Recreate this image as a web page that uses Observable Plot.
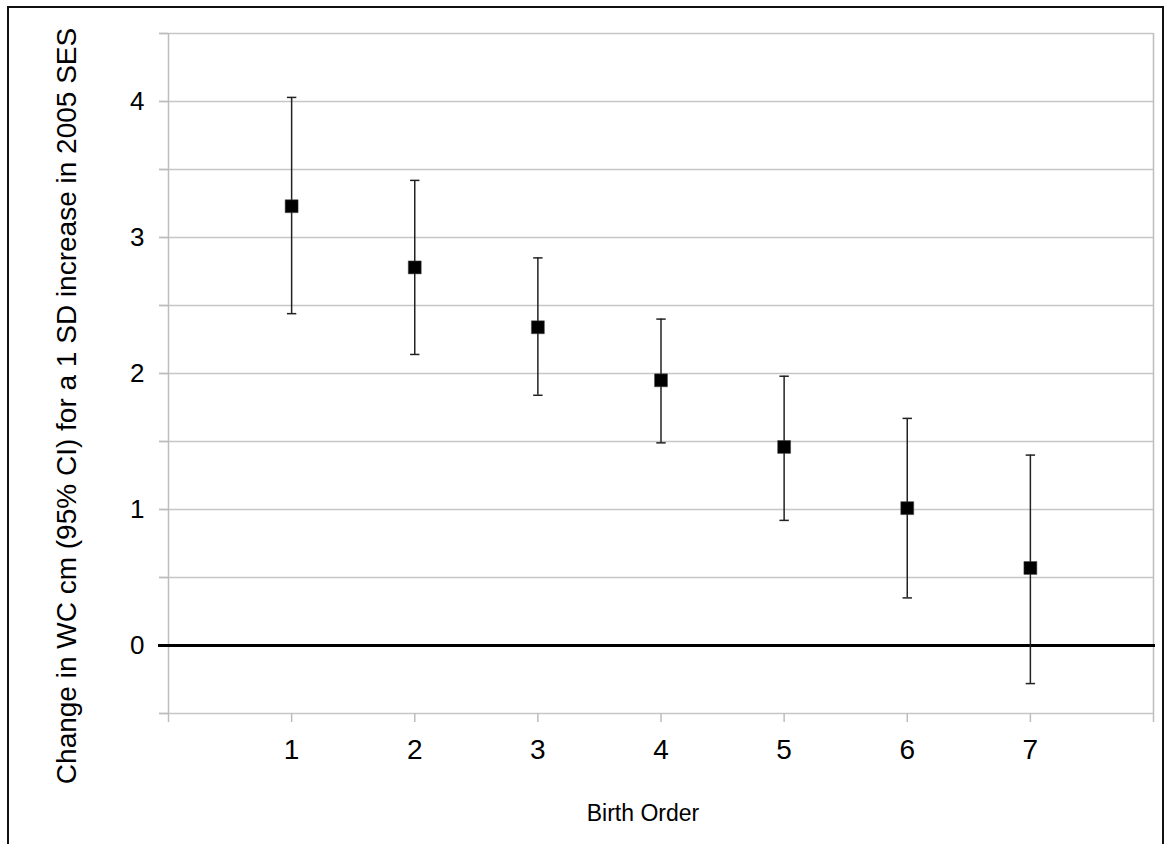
<!DOCTYPE html>
<html><head><meta charset="utf-8">
<script src="https://cdn.jsdelivr.net/npm/d3@7"></script>
<script src="https://cdn.jsdelivr.net/npm/@observablehq/plot@0.6"></script>
<style>
html,body{margin:0;padding:0;background:#fff;overflow:hidden;width:1165px;height:844px;}
#wrap{position:relative;width:1165px;height:844px;font-family:"Liberation Sans",Arial,sans-serif;}
#frame{position:absolute;left:7px;top:6px;width:1157px;height:900px;border:2px solid #111;box-sizing:border-box;pointer-events:none;}
#chart{position:absolute;left:0;top:0;}
#ytitle{position:absolute;left:67px;top:406px;transform:translate(-50%,-50%) rotate(-90deg);white-space:nowrap;font-size:28px;color:#000;}
#xtitle{position:absolute;left:643px;top:813px;transform:translate(-50%,-50%);white-space:nowrap;font-size:23px;color:#000;}
</style></head>
<body>
<div id="wrap">
  <div id="chart"></div>
  <div id="ytitle">Change in WC cm (95% CI) for a 1 SD increase in 2005 SES</div>
  <div id="xtitle">Birth Order</div>
  <div id="frame"></div>
</div>
<script>
const birthOrder = [1, 2, 3, 4, 5, 6, 7];
const estimate = [3.23, 2.78, 2.34, 1.95, 1.46, 1.01, 0.57];
const lower = [2.44, 2.14, 1.84, 1.49, 0.92, 0.35, -0.28];
const upper = [4.03, 3.42, 2.85, 2.40, 1.98, 1.67, 1.40];
const xTicks = [0, 1, 2, 3, 4, 5, 6, 7, 8];
const yTicks = [-0.5, 0, 0.5, 1, 1.5, 2, 2.5, 3, 3.5, 4, 4.5];
const yLabels = [0, 1, 2, 3, 4];

const rows = birthOrder.map((b, i) => ({b, est: estimate[i], lo: lower[i], hi: upper[i]}));
const capSymbol = {draw(ctx, size) { const r = Math.sqrt(size / Math.PI); ctx.moveTo(-r, 0); ctx.lineTo(r, 0); }};
const gray = "#bdbdbd";

const chart = Plot.plot({
  width: 1165, height: 844,
  marginLeft: 168, marginRight: 12, marginTop: 33, marginBottom: 131,
  style: {fontFamily: "Liberation Sans, Arial, sans-serif", background: "transparent", overflow: "visible", color: "#000"},
  x: {domain: [0, 8]},
  y: {domain: [-0.5, 4.5]},
  marks: [
    Plot.gridY(yTicks, {stroke: "#c6c6c6", strokeOpacity: 1, strokeWidth: 1.5, insetLeft: -9}),
    Plot.ruleX([0, 8], {stroke: gray, strokeWidth: 1.5}),
    Plot.axisY({ticks: yTicks, tickSize: 9, text: null, stroke: gray, strokeWidth: 1.5, label: null}),
    Plot.axisY({ticks: yLabels, tickSize: 0, tickPadding: 24, fontSize: 26, label: null, fill: "#000", tickFormat: d => String(d)}),
    Plot.axisX({ticks: xTicks, tickSize: 9, text: null, stroke: gray, strokeWidth: 1.5, label: null}),
    Plot.axisX({ticks: birthOrder, tickSize: 0, tickPadding: 26, fontSize: 28, label: null, fill: "#000", tickFormat: d => String(d)}),
    Plot.ruleY([0], {stroke: "#000", strokeWidth: 3, insetLeft: -10, insetRight: -2}),
    Plot.ruleX(rows, {x: "b", y1: "lo", y2: "hi", stroke: "#222", strokeWidth: 1.5}),
    Plot.dot(rows, {x: "b", y: "lo", symbol: capSymbol, r: 4.7, stroke: "#222", strokeWidth: 1.5, fill: "none"}),
    Plot.dot(rows, {x: "b", y: "hi", symbol: capSymbol, r: 4.7, stroke: "#222", strokeWidth: 1.5, fill: "none"}),
    Plot.dot(rows, {x: "b", y: "est", symbol: "square", r: 7.3, fill: "#000", stroke: "#444", strokeWidth: 0.5})
  ]
});
document.getElementById("chart").appendChild(chart);
</script>
</body></html>
